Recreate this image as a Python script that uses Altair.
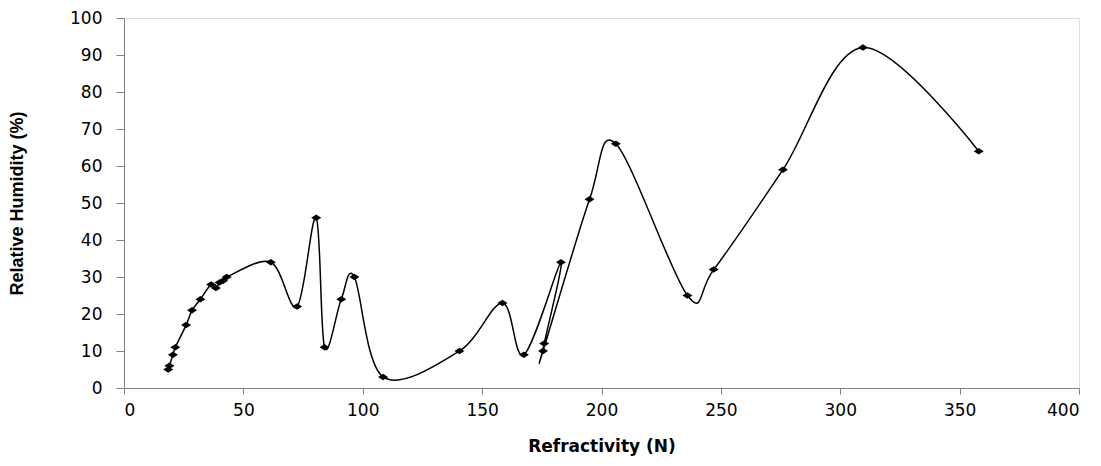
import altair as alt
import pandas as pd

refractivity = [18.5, 19, 20.5, 21.5, 26, 28.5, 32, 36.5, 38.5, 40, 41.5, 43,
                61.5, 72.5, 80.5, 84, 91, 96.5, 108.5, 140.5, 158.5, 167.5,
                183, 176, 175.5, 195, 206, 236, 247, 276, 309.5, 358]
humidity = [5, 6, 9, 11, 17, 21, 24, 28, 27, 28.5, 29, 30,
            34, 22, 46, 11, 24, 30, 3, 10, 23, 9,
            34, 12, 10, 51, 66, 25, 32, 59, 92, 64]
x_ticks = [0, 50, 100, 150, 200, 250, 300, 350, 400]
y_ticks = [0, 10, 20, 30, 40, 50, 60, 70, 80, 90, 100]

df = pd.DataFrame({"N": refractivity, "RH": humidity, "idx": list(range(len(refractivity)))})

x_enc = alt.X("N:Q", scale=alt.Scale(domain=[0, 400], nice=False),
              axis=alt.Axis(values=x_ticks, title="Refractivity (N)", grid=False,
                            tickSize=6, labelPadding=8, labelFontSize=17,
                            labelFont="DejaVu Sans", titleFont="DejaVu Sans",
                            titleFontSize=17, titleFontWeight="bold",
                            titleY=58, titleBaseline="middle",
                            domainColor="#808080", tickColor="#808080",
                            labelColor="black", titleColor="black"))
y_enc = alt.Y("RH:Q", scale=alt.Scale(domain=[0, 100], nice=False),
              axis=alt.Axis(values=y_ticks, title="Relative Humidity (%)", grid=False,
                            tickSize=8, labelPadding=14, labelFontSize=17,
                            labelFont="DejaVu Sans", titleFont="Liberation Sans",
                            titleFontSize=18, titleFontWeight="bold",
                            titleX=-107, titleY=185, titleBaseline="middle",
                            titleAngle=270, titleAlign="center",
                            domainColor="#808080", tickColor="#808080",
                            labelColor="black", titleColor="black"))

line = alt.Chart(df).mark_line(color="black", strokeWidth=1.5, interpolate="cardinal").encode(
    x=x_enc, y=y_enc, order=alt.Order("idx:Q"))
pts = alt.Chart(df).mark_point(shape="M-1,0L0,-0.65L1,0L0,0.65Z", filled=True,
                               color="black", opacity=1, size=100).encode(x=x_enc, y=y_enc)

chart = (line + pts).properties(
    width=955, height=370,
    autosize=alt.AutoSizeParams(type="none"),
    padding={"left": 116, "top": 10, "right": 14, "bottom": 70},
).configure_view(stroke=None).configure(background="white")

chart.save("out.html", embed_options={"renderer": "svg", "actions": False})
